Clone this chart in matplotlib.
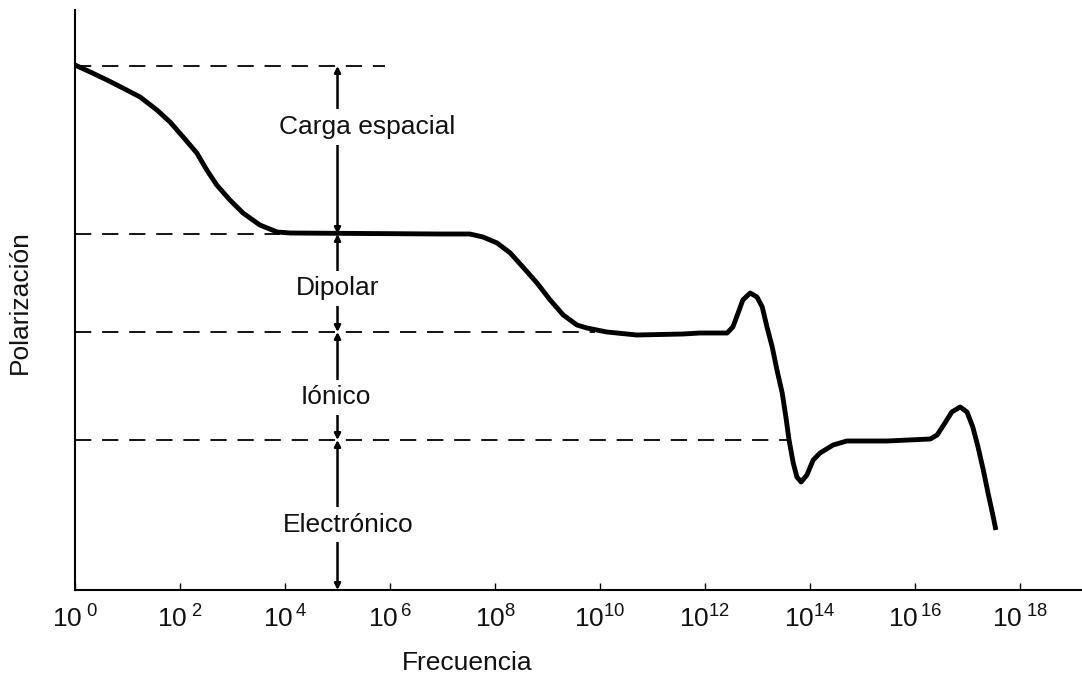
import numpy as np
import matplotlib
matplotlib.use('Agg')
import matplotlib.pyplot as plt

plt.rcParams['font.family'] = ['Liberation Sans', 'DejaVu Sans']
plt.rcParams['mathtext.fontset'] = 'custom'
plt.rcParams['mathtext.rm'] = 'Liberation Sans'
plt.rcParams['mathtext.it'] = 'Liberation Sans'

# log10(frequency) and polarization of the curve
curve_logf = [0.0, 0.29, 0.61, 0.91, 1.24, 1.56, 1.81, 2.06, 2.32, 2.51, 2.70, 2.95,
              3.20, 3.52, 3.85, 4.10, 6.95, 7.52, 7.77, 8.04, 8.29, 8.53, 8.80,
              9.05, 9.30, 9.56, 9.75, 10.13, 10.70, 11.58, 11.90, 12.42, 12.53,
              12.63, 12.72, 12.86, 12.99, 13.09, 13.18, 13.28, 13.37, 13.47, 13.54,
              13.60, 13.68, 13.75, 13.83, 13.94, 14.06, 14.19, 14.44, 14.70, 15.47,
              16.29, 16.42, 16.57, 16.70, 16.86, 16.99, 17.10, 17.20, 17.30, 17.39,
              17.49, 17.54]
curve_pol = [5.25, 5.18, 5.10, 5.02, 4.93, 4.80, 4.68, 4.53, 4.37, 4.20, 4.05, 3.90,
             3.77, 3.65, 3.58, 3.57, 3.56, 3.56, 3.53, 3.47, 3.37, 3.23, 3.07,
             2.90, 2.75, 2.65, 2.62, 2.58, 2.55, 2.56, 2.57, 2.57, 2.63,
             2.77, 2.90, 2.97, 2.93, 2.83, 2.63, 2.43, 2.20, 1.97, 1.73,
             1.50, 1.27, 1.13, 1.08, 1.15, 1.30, 1.37, 1.45, 1.49, 1.49,
             1.51, 1.55, 1.67, 1.78, 1.83, 1.78, 1.63, 1.43, 1.20, 0.97,
             0.73, 0.60]

# mechanism levels and how far (log10 f) their dashed guide lines run
levels = [5.24, 3.56, 2.58, 1.50, 0.0]
level_ends = [5.9, 3.9, 9.9, 13.6]
mechanisms = ['Carga espacial', 'Dipolar', 'Iónico', 'Electrónico']
label_logf = [5.56, 5.0, 4.97, 5.2]
label_pol = [4.56, 2.945, 1.855, 0.585]
arrow_logf = 5.0

tick_exp = [0, 2, 4, 6, 8, 10, 12, 14, 16, 18]
tick_labels = ['10$^{\\ 0}$', '10$^{\\ 2}$', '10$^{\\,4}$', '10$^{\\,6}$', '10$^{8}$',
               '10$^{10}$', '10$^{12}$', '10$^{14}$', '10$^{\\,16}$', '10$^{\\ 18}$']

fig = plt.figure(figsize=(10.82, 6.77), dpi=100)
ax = fig.add_axes([75 / 1082, 87 / 677, 1007 / 1082, 580 / 677])

freq = 10.0 ** np.array(curve_logf)
ax.plot(freq, curve_pol, color='black', lw=3.5, solid_capstyle='butt',
        solid_joinstyle='round', zorder=4)

for lev, end in zip(levels[:4], level_ends):
    ax.plot([1, 10.0 ** end], [lev, lev], color='black', lw=1.3,
            dashes=(9, 6), zorder=2)

# vertical arrows between levels, with the mechanism names on them
xa = 10.0 ** arrow_logf
for i, name in enumerate(mechanisms):
    ax.annotate('', xy=(xa, levels[i]), xytext=(xa, levels[i + 1]),
                arrowprops=dict(arrowstyle='<|-|>', color='black', lw=1.8,
                                mutation_scale=9, shrinkA=0, shrinkB=0),
                zorder=3)
    ax.text(10.0 ** label_logf[i], label_pol[i], name, ha='center', va='baseline',
            fontsize=19, color='#111111', zorder=5,
            bbox=dict(facecolor='white', edgecolor='none', pad=4))

ax.set_xscale('log')
ax.set_xlim(1, 10 ** 19.18)
ax.set_ylim(0, 5.8)
ax.set_xticks([10.0 ** e for e in tick_exp])
ax.set_xticklabels(tick_labels)
ax.xaxis.set_minor_locator(matplotlib.ticker.NullLocator())
ax.tick_params(axis='x', direction='in', length=5, width=1, labelsize=19,
               pad=11, labelcolor='#111111')
ax.set_yticks([])

for s in ['top', 'right']:
    ax.spines[s].set_visible(False)
for s in ['left', 'bottom']:
    ax.spines[s].set_linewidth(1.5)

ax.set_xlabel('Frecuencia', fontsize=19, color='#111111')
ax.xaxis.set_label_coords(392 / 1007, -61 / 580)
ax.set_ylabel('Polarización', fontsize=19, color='#111111')
ax.yaxis.set_label_coords(-43 / 1007, 0.497)

fig.savefig('out.png', dpi=100)
